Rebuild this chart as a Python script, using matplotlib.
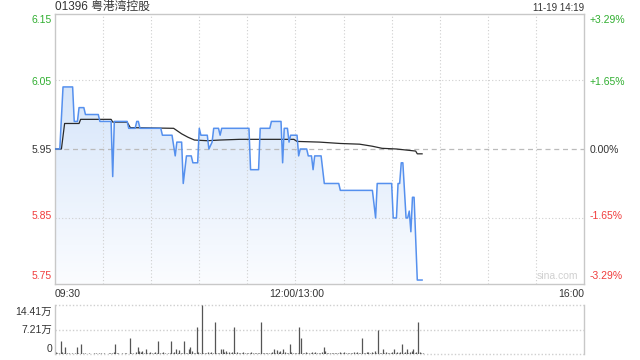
import numpy as np
import matplotlib
matplotlib.use("Agg")
import matplotlib.pyplot as plt
from matplotlib.patches import Polygon

plt.rcParams['font.family'] = ['Liberation Sans', 'Noto Sans CJK SC', 'DejaVu Sans']

title = "01396 粤港湾控股"
stamp = "11-19 14:19"
prev_close = 5.95
price_ticks = [6.15, 6.05, 5.95, 5.85, 5.75]
pct_ticks = ["+3.29%", "+1.65%", "0.00%", "-1.65%", "-3.29%"]
time_labels = ["09:30", "12:00/13:00", "16:00"]
vol_ticks = ["14.41万", "7.21万", "0"]
vol_max = 14.41

# price breakpoints (minutes since 09:30 on the trading axis)
price_min = [0, 3, 5, 11, 12, 14, 15, 18, 19, 27, 28, 35, 36, 37, 45, 46, 50, 51, 52, 53,
             66, 67, 73, 75, 76, 79, 80, 82, 85, 86, 89, 90, 91, 95, 96, 98, 99, 102, 103, 104,
             121, 122, 127, 128, 134, 135, 141, 142, 143, 145, 146, 147, 151, 152, 153, 157, 158,
             160, 161, 162, 166, 168, 177, 178, 198, 200, 201, 210, 211, 213, 214, 215, 216, 217,
             219, 220, 221, 222, 223, 224, 226, 229]
price_val = [5.95, 5.95, 6.04, 6.04, 5.99, 5.99, 6.01, 6.01, 6.00, 6.00, 5.99, 5.99, 5.91, 5.99,
             5.99, 5.98, 5.98, 5.99, 5.99, 5.98,
             5.98, 5.97, 5.97, 5.94, 5.96, 5.96, 5.90, 5.94, 5.94, 5.93, 5.93, 5.98, 5.97, 5.97,
             5.95, 5.96, 5.98, 5.98, 5.97, 5.98,
             5.98, 5.92, 5.92, 5.98, 5.98, 5.99, 5.99, 5.93, 5.98, 5.98, 5.96, 5.97, 5.97, 5.94,
             5.95, 5.95, 5.94,
             5.94, 5.92, 5.94, 5.94, 5.90, 5.90, 5.89, 5.89, 5.85, 5.90, 5.90, 5.85, 5.85, 5.90,
             5.90, 5.93, 5.93,
             5.85, 5.85, 5.86, 5.83, 5.88, 5.88, 5.76, 5.76]

avg_min = [0, 4, 6, 15, 16, 35, 36, 45, 47, 74, 79, 83, 87, 95, 103, 115, 149, 151, 165, 178,
           190, 198, 204, 213, 221, 225, 226, 229]
avg_val = [5.95, 5.95, 5.987, 5.987, 5.993, 5.993, 5.989, 5.989, 5.981, 5.980, 5.972, 5.967,
           5.963, 5.962, 5.963, 5.964, 5.964, 5.961, 5.960, 5.958, 5.957, 5.954, 5.951, 5.950,
           5.948, 5.947, 5.943, 5.943]

volume = [0.5, 0.3, 0.2, 3.8, 0.6, 0.3, 2.2, 0.4, 0.2, 0.1,
          0.2, 0.1, 0.3, 2.2, 0.2, 0.1, 3.0, 0.4, 0.2, 0.1,
          0.1, 0.2, 0.1, 0.1, 0.3, 0.2, 0.1, 0.4, 0.2, 0.1,
          0.2, 0.1, 0.1, 0.3, 0.2, 0.4, 0.6, 2.9, 0.3, 0.2,
          0.1, 0.2, 0.1, 0.3, 0.2, 0.1, 4.8, 0.3, 0.2, 0.1,
          0.5, 2.2, 0.8, 0.6, 1.0, 0.4, 1.4, 0.3, 0.2, 0.6,
          0.3, 0.2, 0.5, 0.2, 3.8, 0.3, 0.2, 0.5, 0.3, 0.1,
          0.2, 0.4, 3.8, 0.2, 0.6, 1.5, 0.3, 1.2, 0.4, 0.2,
          3.8, 0.4, 0.3, 1.5, 2.2, 0.9, 0.3, 0.2, 7.9, 0.5,
          0.3, 14.41, 0.4, 0.2, 0.3, 0.7, 0.2, 0.5, 0.4, 9.4,
          0.3, 0.2, 0.4, 1.5, 1.5, 0.6, 0.8, 0.3, 0.6, 0.2,
          0.5, 7.9, 0.3, 0.6, 0.2, 0.4, 0.3, 0.6, 0.2, 0.4,
          0.3, 0.2, 0.5, 0.2, 0.3, 0.2, 0.4, 0.3, 9.4, 0.2,
          0.3, 0.2, 0.4, 0.2, 0.3, 0.5, 1.5, 0.4, 1.2, 0.5,
          0.8, 0.3, 1.5, 0.6, 0.3, 0.4, 2.9, 0.5, 0.3, 0.2,
          0.3, 0.2, 7.9, 4.8, 0.3, 0.2, 0.5, 0.3, 0.4, 0.2,
          0.5, 0.3, 0.6, 0.2, 0.4, 0.3, 0.6, 2.2, 1.0, 0.4,
          0.3, 0.2, 0.4, 0.2, 0.3, 0.2, 0.3, 0.6, 0.2, 0.3,
          0.7, 0.3, 0.2, 0.4, 0.3, 0.2, 0.5, 0.3, 0.6, 0.4,
          0.3, 4.8, 0.4, 0.3, 0.5, 0.7, 0.3, 0.6, 0.4, 0.8,
          0.3, 7.1, 0.4, 0.3, 1.5, 0.3, 0.5, 0.2, 0.4, 0.3,
          0.6, 1.5, 0.3, 0.5, 0.3, 0.6, 3.0, 0.4, 0.5, 1.5,
          0.3, 0.6, 0.9, 1.5, 0.4, 0.6, 9.4, 0.5, 0.3, 0.4]

GREEN = '#2fae2f'
RED = '#f03c3c'
DARK = '#333333'
BORDER = '#c8c8c8'
GRID = '#cfcfcf'

W, H = 640, 360
fig = plt.figure(figsize=(6.4, 3.6), dpi=100)
fig.patch.set_facecolor('white')

ax = fig.add_axes([55 / W, 1 - 284 / H, 529 / W, 270 / H])
spread = 0.0329 * prev_close
ymin, ymax = prev_close - spread, prev_close + spread
ax.set_xlim(0, 330)
ax.set_ylim(ymin, ymax)
ax.set_xticks([]); ax.set_yticks([])
for s in ax.spines.values():
    s.set_color(BORDER); s.set_linewidth(1.0)

# gradient fill under the price line
pm = np.array(price_min, float); pv = np.array(price_val, float)
verts = np.column_stack([np.r_[pm, pm[-1], pm[0]], np.r_[pv, ymin, ymin]])
poly = Polygon(verts, closed=True, facecolor='none', edgecolor='none')
ax.add_patch(poly)
grad = np.linspace(0, 1, 256).reshape(-1, 1)
c_top = np.array([0.84, 0.90, 0.98]); c_bot = np.array([0.985, 0.99, 1.0])
img = c_top[None, None, :] * (1 - grad[:, :, None]) + c_bot[None, None, :] * grad[:, :, None]
im = ax.imshow(img, extent=[0, 330, ymin, pv.max()], origin='upper', aspect='auto', zorder=1)
im.set_clip_path(poly)

# grid (drawn over the fill)
for m in range(30, 330, 30):
    ax.axvline(m, color=GRID, lw=0.8, ls=(0, (1, 2)), zorder=2)
for p in [price_ticks[1], price_ticks[3]]:
    ax.axhline(p, color=GRID, lw=0.8, ls=(0, (1, 2)), zorder=2)
ax.axhline(prev_close, color='#bbbbbb', lw=0.9, ls=(0, (4, 3)), zorder=2)

ax.plot(avg_min, avg_val, color='#2a2a2a', lw=0.9, zorder=3)
ax.plot(price_min, price_val, color='#5590ee', lw=1.1, zorder=4)

ax.text(0.99, 0.012, "sina.com", transform=ax.transAxes, ha='right', va='bottom',
        fontsize=7.5, color='#d0d0d0', zorder=5)

# price labels
lab_colors = [GREEN, GREEN, DARK, RED, RED]
ypix = [20, 82, 150, 216, 276]
for i, (p, t, c) in enumerate(zip(price_ticks, pct_ticks, lab_colors)):
    yf = 1 - ypix[i] / H
    fig.text(52 / W, yf, f"{p:.2f}", ha='right', va='center', fontsize=7.5, color=c)
    fig.text(590 / W, yf, t, ha='left', va='center', fontsize=7.5, color=c)

# time labels
fig.text(55 / W, 1 - 294 / H, time_labels[0], ha='left', va='center', fontsize=7.5, color=DARK)
fig.text(297 / W, 1 - 294 / H, time_labels[1], ha='center', va='center', fontsize=7.5, color=DARK)
fig.text(584 / W, 1 - 294 / H, time_labels[2], ha='right', va='center', fontsize=7.5, color=DARK)

fig.text(55 / W, 1 - 7 / H, title, ha='left', va='center', fontsize=8.5, color=DARK)
fig.text(584 / W, 1 - 8 / H, stamp, ha='right', va='center', fontsize=7, color=DARK)

# volume panel
ax2 = fig.add_axes([55 / W, 1 - 354 / H, 529 / W, 49 / H])
ax2.set_xlim(0, 330)
ax2.set_ylim(0, vol_max)
ax2.set_xticks([]); ax2.set_yticks([])
for k in ['left', 'right']:
    ax2.spines[k].set_color(BORDER); ax2.spines[k].set_linewidth(1.0)
for k in ['top', 'bottom']:
    ax2.spines[k].set_visible(False)
ax2.axhline(vol_max, color=GRID, lw=1.0, ls=(0, (1, 1.5)), clip_on=False)
ax2.axhline(vol_max / 2, color=GRID, lw=1.0, ls=(0, (1, 1.5)))
ax2.axhline(0, color=GRID, lw=1.0, ls=(0, (1, 1.5)), clip_on=False)
vm = np.arange(len(volume))
ax2.vlines(vm + 0.5, 0, volume, color='#555555', lw=0.9)

vy = [312, 330, 349]
for t, y in zip(vol_ticks, vy):
    fig.text(52 / W, 1 - y / H, t, ha='right', va='center', fontsize=7.5, color=DARK)

fig.savefig("out.png", dpi=100)
